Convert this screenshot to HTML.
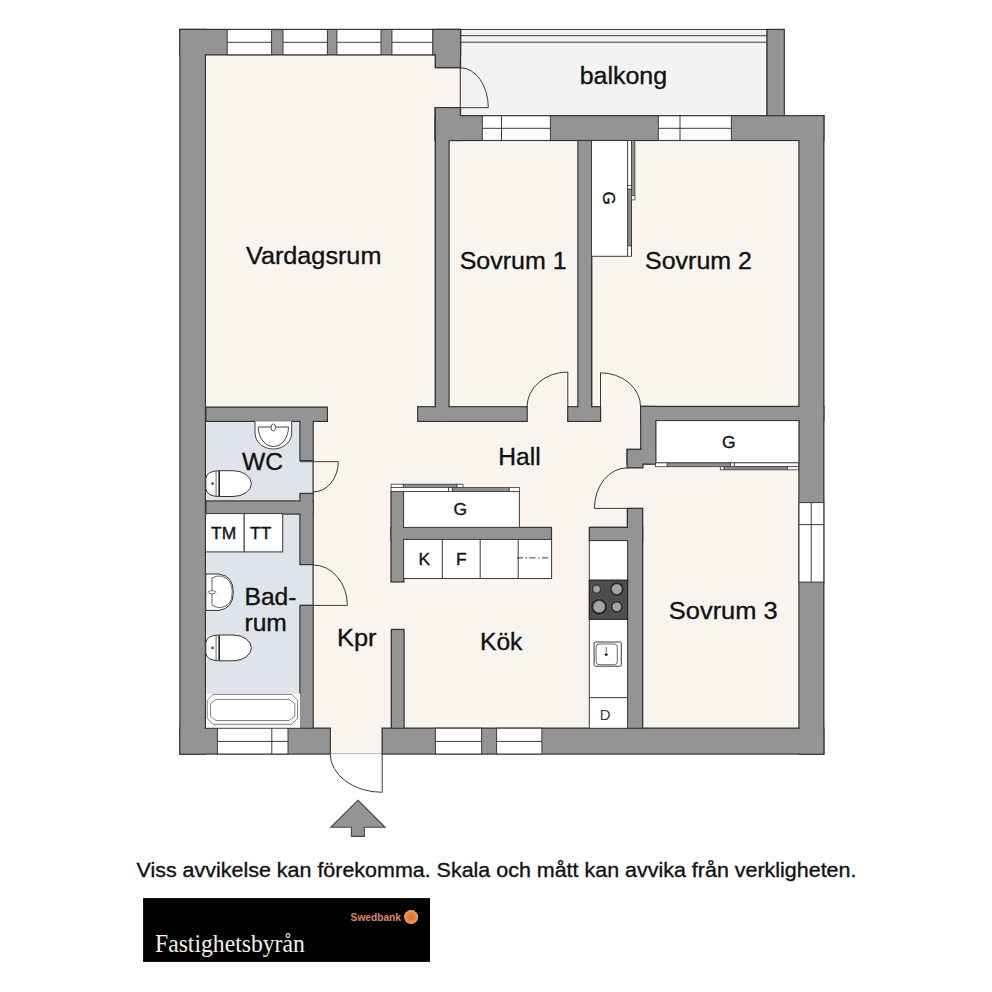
<!DOCTYPE html>
<html><head><meta charset="utf-8"><style>
html,body{margin:0;padding:0;background:#fff;width:992px;height:992px;overflow:hidden}
svg{display:block}
</style></head><body>
<svg width="992" height="992" viewBox="0 0 992 992">
<rect x="205.0" y="54.8" width="231.0" height="673.4" fill="#f9f5ee"/>
<rect x="435.0" y="115.8" width="364.0" height="612.4" fill="#f9f5ee"/>
<rect x="460.5" y="29.5" width="306.6" height="86.3" fill="#f3f3f3" stroke="#3a3a3a" stroke-width="1"/>
<rect x="206.0" y="421.3" width="107.0" height="79.7" fill="#dfe3ea"/>
<rect x="206.0" y="514.0" width="107.0" height="214.2" fill="#dfe3ea"/>
<rect x="434.0" y="66.0" width="28.0" height="43.0" fill="#f9f5ee"/>
<rect x="329.0" y="727.0" width="54.0" height="27.0" fill="#f9f5ee"/>
<rect x="180.0" y="29.5" width="252.7" height="25.3" fill="#949494" stroke="#333" stroke-width="1.4"/>
<rect x="432.7" y="29.5" width="27.8" height="25.3" fill="#949494" stroke="#333" stroke-width="1.4"/>
<rect x="435.3" y="29.5" width="25.2" height="38.2" fill="#949494" stroke="#333" stroke-width="1.4"/>
<rect x="180.0" y="29.5" width="25.3" height="724.5" fill="#949494" stroke="#333" stroke-width="1.4"/>
<rect x="180.0" y="728.2" width="150.2" height="25.8" fill="#949494" stroke="#333" stroke-width="1.4"/>
<rect x="382.2" y="728.2" width="441.6" height="25.8" fill="#949494" stroke="#333" stroke-width="1.4"/>
<rect x="799.0" y="115.8" width="24.8" height="638.2" fill="#949494" stroke="#333" stroke-width="1.4"/>
<rect x="435.3" y="107.7" width="25.2" height="32.7" fill="#949494" stroke="#333" stroke-width="1.4"/>
<rect x="435.3" y="115.8" width="388.5" height="24.6" fill="#949494" stroke="#333" stroke-width="1.4"/>
<rect x="767.1" y="29.5" width="17.1" height="86.3" fill="#949494" stroke="#333" stroke-width="1.4"/>
<rect x="435.3" y="107.7" width="13.7" height="313.6" fill="#949494" stroke="#333" stroke-width="1.4"/>
<rect x="417.8" y="406.8" width="109.3" height="14.5" fill="#949494" stroke="#333" stroke-width="1.4"/>
<rect x="578.0" y="140.4" width="13.7" height="280.9" fill="#949494" stroke="#333" stroke-width="1.4"/>
<rect x="567.8" y="406.8" width="32.7" height="14.5" fill="#949494" stroke="#333" stroke-width="1.4"/>
<rect x="640.7" y="406.5" width="183.1" height="14.1" fill="#949494" stroke="#333" stroke-width="1.4"/>
<rect x="640.8" y="406.5" width="15.2" height="57.4" fill="#949494" stroke="#333" stroke-width="1.4"/>
<rect x="627.2" y="449.5" width="28.8" height="14.4" fill="#949494" stroke="#333" stroke-width="1.4"/>
<rect x="627.2" y="449.5" width="15.7" height="18.3" fill="#949494" stroke="#333" stroke-width="1.4"/>
<rect x="627.4" y="508.4" width="15.2" height="219.8" fill="#949494" stroke="#333" stroke-width="1.4"/>
<rect x="589.4" y="527.3" width="53.2" height="13.3" fill="#949494" stroke="#333" stroke-width="1.4"/>
<rect x="206.0" y="407.2" width="121.3" height="14.1" fill="#949494" stroke="#333" stroke-width="1.4"/>
<rect x="300.0" y="410.0" width="13.1" height="50.6" fill="#949494" stroke="#333" stroke-width="1.4"/>
<rect x="300.0" y="493.5" width="13.1" height="71.0" fill="#949494" stroke="#333" stroke-width="1.4"/>
<rect x="300.0" y="605.4" width="13.1" height="122.8" fill="#949494" stroke="#333" stroke-width="1.4"/>
<rect x="206.0" y="501.0" width="107.1" height="13.0" fill="#949494" stroke="#333" stroke-width="1.4"/>
<rect x="391.1" y="491.2" width="12.7" height="90.7" fill="#949494" stroke="#333" stroke-width="1.4"/>
<rect x="391.1" y="527.5" width="160.3" height="12.1" fill="#949494" stroke="#333" stroke-width="1.4"/>
<rect x="391.4" y="629.5" width="12.6" height="98.7" fill="#949494" stroke="#333" stroke-width="1.4"/>
<rect x="180.7" y="30.2" width="251.3" height="23.9" fill="#949494"/>
<rect x="433.4" y="30.2" width="26.4" height="23.9" fill="#949494"/>
<rect x="436.0" y="30.2" width="23.8" height="36.8" fill="#949494"/>
<rect x="180.7" y="30.2" width="23.9" height="723.1" fill="#949494"/>
<rect x="180.7" y="728.9" width="148.8" height="24.4" fill="#949494"/>
<rect x="382.9" y="728.9" width="440.2" height="24.4" fill="#949494"/>
<rect x="799.7" y="116.5" width="23.4" height="636.8" fill="#949494"/>
<rect x="436.0" y="108.4" width="23.8" height="31.3" fill="#949494"/>
<rect x="436.0" y="116.5" width="387.1" height="23.2" fill="#949494"/>
<rect x="767.8" y="30.2" width="15.7" height="84.9" fill="#949494"/>
<rect x="436.0" y="108.4" width="12.3" height="312.2" fill="#949494"/>
<rect x="418.5" y="407.5" width="107.9" height="13.1" fill="#949494"/>
<rect x="578.7" y="141.1" width="12.3" height="279.5" fill="#949494"/>
<rect x="568.5" y="407.5" width="31.3" height="13.1" fill="#949494"/>
<rect x="641.4" y="407.2" width="181.7" height="12.7" fill="#949494"/>
<rect x="641.5" y="407.2" width="13.8" height="56.0" fill="#949494"/>
<rect x="627.9" y="450.2" width="27.4" height="13.0" fill="#949494"/>
<rect x="627.9" y="450.2" width="14.3" height="16.9" fill="#949494"/>
<rect x="628.1" y="509.1" width="13.8" height="218.4" fill="#949494"/>
<rect x="590.1" y="528.0" width="51.8" height="11.9" fill="#949494"/>
<rect x="206.7" y="407.9" width="119.9" height="12.7" fill="#949494"/>
<rect x="300.7" y="410.7" width="11.7" height="49.2" fill="#949494"/>
<rect x="300.7" y="494.2" width="11.7" height="69.6" fill="#949494"/>
<rect x="300.7" y="606.1" width="11.7" height="121.4" fill="#949494"/>
<rect x="206.7" y="501.7" width="105.7" height="11.6" fill="#949494"/>
<rect x="391.8" y="491.9" width="11.3" height="89.3" fill="#949494"/>
<rect x="391.8" y="528.2" width="158.9" height="10.7" fill="#949494"/>
<rect x="392.1" y="630.2" width="11.2" height="97.3" fill="#949494"/>
<rect x="227.2" y="29.5" width="44.4" height="25.3" fill="#fff" stroke="#3a3a3a" stroke-width="1"/>
<line x1="227.2" y1="42.3" x2="271.6" y2="42.3" stroke="#3a3a3a" stroke-width="1"/>
<rect x="283.0" y="29.5" width="44.4" height="25.3" fill="#fff" stroke="#3a3a3a" stroke-width="1"/>
<line x1="283.0" y1="42.3" x2="327.4" y2="42.3" stroke="#3a3a3a" stroke-width="1"/>
<rect x="336.9" y="29.5" width="44.1" height="25.3" fill="#fff" stroke="#3a3a3a" stroke-width="1"/>
<line x1="336.9" y1="42.3" x2="381.0" y2="42.3" stroke="#3a3a3a" stroke-width="1"/>
<rect x="391.9" y="29.5" width="40.8" height="25.3" fill="#fff" stroke="#3a3a3a" stroke-width="1"/>
<line x1="391.9" y1="42.3" x2="432.7" y2="42.3" stroke="#3a3a3a" stroke-width="1"/>
<rect x="482.3" y="115.8" width="68.1" height="24.6" fill="#fff" stroke="#3a3a3a" stroke-width="1"/>
<line x1="482.3" y1="128.3" x2="550.4" y2="128.3" stroke="#3a3a3a" stroke-width="1"/>
<line x1="501.5" y1="115.8" x2="501.5" y2="140.4" stroke="#3a3a3a" stroke-width="1"/>
<rect x="658.3" y="115.8" width="73.1" height="24.6" fill="#fff" stroke="#3a3a3a" stroke-width="1"/>
<line x1="658.3" y1="128.3" x2="731.4" y2="128.3" stroke="#3a3a3a" stroke-width="1"/>
<line x1="680.0" y1="115.8" x2="680.0" y2="140.4" stroke="#3a3a3a" stroke-width="1"/>
<rect x="217.4" y="728.2" width="70.6" height="25.8" fill="#fff" stroke="#3a3a3a" stroke-width="1"/>
<line x1="217.4" y1="741.4" x2="288.0" y2="741.4" stroke="#3a3a3a" stroke-width="1"/>
<line x1="271.8" y1="728.2" x2="271.8" y2="754.0" stroke="#3a3a3a" stroke-width="1"/>
<rect x="435.4" y="728.2" width="46.3" height="25.8" fill="#fff" stroke="#3a3a3a" stroke-width="1"/>
<line x1="435.4" y1="741.4" x2="481.7" y2="741.4" stroke="#3a3a3a" stroke-width="1"/>
<rect x="496.6" y="728.2" width="45.3" height="25.8" fill="#fff" stroke="#3a3a3a" stroke-width="1"/>
<line x1="496.6" y1="741.4" x2="541.9" y2="741.4" stroke="#3a3a3a" stroke-width="1"/>
<rect x="799.0" y="502.6" width="24.8" height="79.5" fill="#fff" stroke="#3a3a3a" stroke-width="1"/>
<line x1="811.2" y1="502.6" x2="811.2" y2="582.1" stroke="#3a3a3a" stroke-width="1"/>
<line x1="799.0" y1="524.6" x2="823.8" y2="524.6" stroke="#3a3a3a" stroke-width="1"/>
<line x1="460.5" y1="35.7" x2="767.1" y2="35.7" stroke="#3a3a3a" stroke-width="1"/>
<line x1="460.5" y1="42.2" x2="767.1" y2="42.2" stroke="#3a3a3a" stroke-width="1"/>
<line x1="460.3" y1="60.0" x2="460.3" y2="115.8" stroke="#3a3a3a" stroke-width="1.1"/>
<path d="M460.5,107.7 L488.3,107.7 A27.8,39.9 0 0 0 460.5,67.8" fill="none" stroke="#3a3a3a" stroke-width="1"/>
<line x1="313.1" y1="460.6" x2="313.1" y2="493.5" stroke="#3a3a3a" stroke-width="1.3"/>
<line x1="313.1" y1="564.5" x2="313.1" y2="605.4" stroke="#3a3a3a" stroke-width="1.3"/>
<path d="M313.1,461.7 L338.3,461.7 A25.2,30.3 0 0 1 313.1,492" fill="none" stroke="#3a3a3a" stroke-width="1"/>
<line x1="300.0" y1="461.7" x2="313.1" y2="461.7" stroke="#3a3a3a" stroke-width="1"/>
<path d="M313.1,605.4 L347.4,605.4 A34.3,40.4 0 0 0 313.1,565" fill="none" stroke="#3a3a3a" stroke-width="1"/>
<line x1="300.0" y1="605.4" x2="313.1" y2="605.4" stroke="#3a3a3a" stroke-width="1"/>
<path d="M382.2,753.6 L382.2,792.3 A52,38.7 0 0 1 330.2,753.6" fill="none" stroke="#3a3a3a" stroke-width="1"/>
<line x1="330.2" y1="753.6" x2="382.2" y2="753.6" stroke="#888" stroke-width="0.6"/>
<path d="M567.8,406.8 L567.8,372 A40.7,34.8 0 0 0 527.1,406.8" fill="none" stroke="#3a3a3a" stroke-width="1"/>
<path d="M600.5,406.8 L600.5,372.8 A40.1,34 0 0 1 640.6,406.8" fill="none" stroke="#3a3a3a" stroke-width="1"/>
<path d="M627.2,508.4 L594.4,508.4 A32.8,40.6 0 0 1 627.2,467.8" fill="none" stroke="#3a3a3a" stroke-width="1"/>
<rect x="591.5" y="140.5" width="36.2" height="115.8" fill="#fff" stroke="#3a3a3a" stroke-width="1"/>
<rect x="656.0" y="420.6" width="142.9" height="42.3" fill="#fff" stroke="#3a3a3a" stroke-width="1"/>
<rect x="403.6" y="491.4" width="115.8" height="36.0" fill="#fff" stroke="#3a3a3a" stroke-width="1"/>
<rect x="627.7" y="140.5" width="3.7" height="44.9" fill="#fff" stroke="#3a3a3a" stroke-width="0.8"/>
<rect x="627.7" y="185.4" width="3.7" height="3.8" fill="#fff" stroke="#3a3a3a" stroke-width="0.8"/>
<rect x="627.7" y="189.2" width="3.7" height="56.6" fill="#8f8f8f" stroke="#3a3a3a" stroke-width="0.8"/>
<rect x="627.7" y="245.8" width="3.7" height="10.5" fill="#fff" stroke="#3a3a3a" stroke-width="0.8"/>
<rect x="631.4" y="140.5" width="3.5" height="54.9" fill="#8f8f8f" stroke="#3a3a3a" stroke-width="0.8"/>
<rect x="631.4" y="195.4" width="3.5" height="4.5" fill="#fff" stroke="#3a3a3a" stroke-width="0.8"/>
<line x1="631.4" y1="199.9" x2="631.4" y2="256.3" stroke="#3a3a3a" stroke-width="0.9"/>
<rect x="391.1" y="484.2" width="12.2" height="3.2" fill="#fff" stroke="#3a3a3a" stroke-width="0.8"/>
<rect x="403.3" y="484.2" width="53.7" height="3.2" fill="#8f8f8f" stroke="#3a3a3a" stroke-width="0.8"/>
<rect x="457.0" y="484.2" width="6.0" height="3.2" fill="#fff" stroke="#3a3a3a" stroke-width="0.8"/>
<rect x="391.1" y="487.4" width="57.3" height="4.0" fill="#fff" stroke="#3a3a3a" stroke-width="0.8"/>
<rect x="448.4" y="487.4" width="4.3" height="4.0" fill="#fff" stroke="#3a3a3a" stroke-width="0.8"/>
<rect x="452.7" y="487.4" width="56.5" height="4.0" fill="#8f8f8f" stroke="#3a3a3a" stroke-width="0.8"/>
<rect x="509.2" y="487.4" width="10.2" height="4.0" fill="#fff" stroke="#3a3a3a" stroke-width="0.8"/>
<rect x="655.5" y="462.9" width="11.7" height="3.8" fill="#fff" stroke="#3a3a3a" stroke-width="0.8"/>
<rect x="667.2" y="462.9" width="63.3" height="3.8" fill="#8f8f8f" stroke="#3a3a3a" stroke-width="0.8"/>
<rect x="730.5" y="462.9" width="3.9" height="3.8" fill="#fff" stroke="#3a3a3a" stroke-width="0.8"/>
<rect x="734.4" y="462.9" width="64.0" height="3.8" fill="#fff" stroke="#3a3a3a" stroke-width="0.8"/>
<rect x="720.3" y="466.7" width="3.9" height="3.1" fill="#fff" stroke="#3a3a3a" stroke-width="0.8"/>
<rect x="724.2" y="466.7" width="63.3" height="3.1" fill="#8f8f8f" stroke="#3a3a3a" stroke-width="0.8"/>
<rect x="787.5" y="466.7" width="10.9" height="3.1" fill="#fff" stroke="#3a3a3a" stroke-width="0.8"/>
<rect x="403.6" y="539.4" width="148.0" height="39.1" fill="#fff" stroke="#3a3a3a" stroke-width="1"/>
<line x1="442.3" y1="539.4" x2="442.3" y2="578.5" stroke="#3a3a3a" stroke-width="1"/>
<line x1="480.2" y1="539.4" x2="480.2" y2="578.5" stroke="#3a3a3a" stroke-width="1"/>
<line x1="518.2" y1="539.4" x2="518.2" y2="578.5" stroke="#3a3a3a" stroke-width="1"/>
<line x1="517" y1="557.9" x2="549.2" y2="557.9" stroke="#3a3a3a" stroke-width="1" stroke-dasharray="6,2.5,1.5,2.5"/>
<rect x="589.3" y="540.6" width="38.3" height="187.7" fill="#fff" stroke="#3a3a3a" stroke-width="1"/>
<rect x="589.3" y="580.0" width="38.3" height="39.4" fill="#4d4d4d" stroke="#222" stroke-width="1"/>
<circle cx="596.6" cy="589.1" r="5.2" fill="#262626" stroke="#666" stroke-width="0.7"/>
<circle cx="596.6" cy="589.1" r="3.64" fill="#a5a5a5" stroke="#555" stroke-width="0.6"/>
<circle cx="616.8" cy="589.1" r="7.4" fill="#262626" stroke="#666" stroke-width="0.7"/>
<circle cx="616.8" cy="589.1" r="5.18" fill="#a5a5a5" stroke="#555" stroke-width="0.6"/>
<circle cx="599.1" cy="606.8" r="8.5" fill="#262626" stroke="#666" stroke-width="0.7"/>
<circle cx="599.1" cy="606.8" r="5.95" fill="#a5a5a5" stroke="#555" stroke-width="0.6"/>
<circle cx="616.8" cy="606.8" r="6.5" fill="#262626" stroke="#666" stroke-width="0.7"/>
<circle cx="616.8" cy="606.8" r="4.55" fill="#a5a5a5" stroke="#555" stroke-width="0.6"/>
<line x1="589.3" y1="697.6" x2="627.6" y2="697.6" stroke="#3a3a3a" stroke-width="1"/>
<rect x="594.1" y="642.0" width="27.2" height="24.2" fill="#fff" stroke="#3a3a3a" stroke-width="1" rx="1.5"/>
<rect x="596.1" y="644.0" width="21.2" height="20.7" fill="#fff" stroke="#555" stroke-width="0.9" rx="3"/>
<line x1="606.2" y1="647.0" x2="606.2" y2="652.0" stroke="#666" stroke-width="1"/>
<circle cx="606.2" cy="654.6" r="1.4" fill="#111"/>
<rect x="205.5" y="513.6" width="38.7" height="38.3" fill="#fff" stroke="#3a3a3a" stroke-width="1"/>
<rect x="244.2" y="513.6" width="38.5" height="38.3" fill="#fff" stroke="#3a3a3a" stroke-width="1"/>
<path d="M255,421.3 L255,433 A18.35,16 0 0 0 291.7,433 L291.7,421.3" fill="#fff" stroke="#444" stroke-width="1"/>
<path d="M258.3,427 L288.5,427 A15.1,19.5 0 0 1 258.3,427 Z" fill="#fff" stroke="#444" stroke-width="1"/>
<ellipse cx="273.3" cy="427.5" rx="2.2" ry="3.6" fill="#fff" stroke="#444" stroke-width="0.9"/>
<path d="M219.7,470.7 L233,470.7 A18.4,12.9 0 0 1 233,496.5 L219.7,496.5 Q206.5,496.5 205.8,488.6 L205.8,478.6 Q206.5,470.7 219.7,470.7 Z" fill="#fff" stroke="#333" stroke-width="1"/>
<line x1="216.1" y1="471.2" x2="216.1" y2="496.0" stroke="#444" stroke-width="0.8"/>
<line x1="219.2" y1="471.0" x2="219.2" y2="496.2" stroke="#222" stroke-width="1.6"/>
<circle cx="212.6" cy="483.6" r="1.3" fill="#444"/>
<path d="M219.7,635.0 L233,635.0 A18.4,12.9 0 0 1 233,660.8 L219.7,660.8 Q206.5,660.8 205.8,652.9 L205.8,642.9 Q206.5,635.0 219.7,635.0 Z" fill="#fff" stroke="#333" stroke-width="1"/>
<line x1="216.1" y1="635.5" x2="216.1" y2="660.3" stroke="#444" stroke-width="0.8"/>
<line x1="219.2" y1="635.3" x2="219.2" y2="660.5" stroke="#222" stroke-width="1.6"/>
<circle cx="212.6" cy="647.9" r="1.3" fill="#444"/>
<path d="M205.8,574 L219,574 Q233.3,576 233.3,592.2 Q233.3,608.5 219,610.4 L205.8,610.4 Z" fill="#fff" stroke="#333" stroke-width="1"/>
<path d="M212,578 Q216,575.5 221,576 Q232.3,579 232.3,592 Q232.3,606 221,607.5 Q216,608 212,605 Z" fill="#fff" stroke="#555" stroke-width="0.9"/>
<ellipse cx="212" cy="592.2" rx="4" ry="1.6" fill="#fff" stroke="#555" stroke-width="0.8"/>
<rect x="206.0" y="693.5" width="94.3" height="34.2" fill="#f7f8fa"/>
<path d="M213,694.4 L291.6,694.4 L297.6,700.4 L297.6,718.3 L291.6,724.3 L213,724.3 L207.2,718.3 L207.2,700.4 Z" fill="#fff" stroke="#777" stroke-width="0.9"/>
<path d="M216,699.4 L289,699.4 L294.8,703.5 L294.8,716.4 L289,720.5 L216,720.5 L210.5,716.4 L210.5,703.5 Z" fill="#fff" stroke="#777" stroke-width="0.9"/>
<path d="M358,800.2 L385.1,827.3 L364.3,827.3 L364.3,836.4 L351.4,836.4 L351.4,827.3 L330.7,827.3 Z" fill="#949494" stroke="#444" stroke-width="1.1"/>
<text x="0" y="0" transform="translate(246.0,264.2) scale(1.025,1)" font-size="24.6" fill="#111" text-anchor="start" stroke="#111" stroke-width="0.35" style="font-family:'Liberation Sans'">Vardagsrum</text>
<text x="0" y="0" transform="translate(579.7,84.2) scale(1.015,1)" font-size="24.6" fill="#111" text-anchor="start" stroke="#111" stroke-width="0.35" style="font-family:'Liberation Sans'">balkong</text>
<text x="0" y="0" transform="translate(459.7,268.8) scale(1.025,1)" font-size="24.4" fill="#111" text-anchor="start" stroke="#111" stroke-width="0.35" style="font-family:'Liberation Sans'">Sovrum 1</text>
<text x="0" y="0" transform="translate(645.0,268.8) scale(1.025,1)" font-size="24.4" fill="#111" text-anchor="start" stroke="#111" stroke-width="0.35" style="font-family:'Liberation Sans'">Sovrum 2</text>
<text x="0" y="0" transform="translate(498.2,464.5) scale(1.01,1)" font-size="24.4" fill="#111" text-anchor="start" stroke="#111" stroke-width="0.35" style="font-family:'Liberation Sans'">Hall</text>
<text x="0" y="0" transform="translate(242.0,469.7) scale(1.025,1)" font-size="24" fill="#111" text-anchor="start" stroke="#111" stroke-width="0.35" style="font-family:'Liberation Sans'">WC</text>
<text x="0" y="0" transform="translate(244.5,605.4) scale(1.025,1)" font-size="24" fill="#111" text-anchor="start" stroke="#111" stroke-width="0.35" style="font-family:'Liberation Sans'">Bad-</text>
<text x="0" y="0" transform="translate(244.5,630.6) scale(1.025,1)" font-size="24" fill="#111" text-anchor="start" stroke="#111" stroke-width="0.35" style="font-family:'Liberation Sans'">rum</text>
<text x="0" y="0" transform="translate(337.0,646.2) scale(1.025,1)" font-size="24.8" fill="#111" text-anchor="start" stroke="#111" stroke-width="0.35" style="font-family:'Liberation Sans'">Kpr</text>
<text x="0" y="0" transform="translate(480.0,650.4) scale(1.025,1)" font-size="24" fill="#111" text-anchor="start" stroke="#111" stroke-width="0.35" style="font-family:'Liberation Sans'">Kök</text>
<text x="0" y="0" transform="translate(668.8,619.1) scale(1.035,1)" font-size="24.6" fill="#111" text-anchor="start" stroke="#111" stroke-width="0.35" style="font-family:'Liberation Sans'">Sovrum 3</text>
<text x="0" y="0" transform="translate(211.0,539.3) scale(1.025,1)" font-size="17" fill="#111" text-anchor="start" stroke="#111" stroke-width="0.35" style="font-family:'Liberation Sans'">TM</text>
<text x="0" y="0" transform="translate(250.0,539.3) scale(1.025,1)" font-size="17" fill="#111" text-anchor="start" stroke="#111" stroke-width="0.35" style="font-family:'Liberation Sans'">TT</text>
<text x="0" y="0" transform="translate(453.5,515.0) scale(1.025,1)" font-size="17" fill="#111" text-anchor="start" stroke="#111" stroke-width="0.35" style="font-family:'Liberation Sans'">G</text>
<text x="0" y="0" transform="translate(418.5,565.4) scale(1.025,1)" font-size="17" fill="#111" text-anchor="start" stroke="#111" stroke-width="0.35" style="font-family:'Liberation Sans'">K</text>
<text x="0" y="0" transform="translate(456.0,565.4) scale(1.025,1)" font-size="17" fill="#111" text-anchor="start" stroke="#111" stroke-width="0.35" style="font-family:'Liberation Sans'">F</text>
<text x="0" y="0" transform="translate(722.0,448.0) scale(1.025,1)" font-size="17" fill="#111" text-anchor="start" stroke="#111" stroke-width="0.35" style="font-family:'Liberation Sans'">G</text>
<text x="0" y="0" transform="translate(599.7,720.0) scale(1.025,1)" font-size="14.5" fill="#333" text-anchor="start" stroke="#333" stroke-width="0" style="font-family:'Liberation Sans'">D</text>
<text x="0" y="0" font-size="17" fill="#111" stroke="#111" stroke-width="0.35" font-family="Liberation Sans" transform="translate(603.2,191.6) rotate(90)">G</text>
<text x="0" y="0" transform="translate(136.5,877.2) scale(1.037,1)" font-size="20.7" fill="#111" text-anchor="start" stroke="#111" stroke-width="0.35" style="font-family:'Liberation Sans'">Viss avvikelse kan förekomma. Skala och mått kan avvika från verkligheten.</text>
<rect x="143.1" y="898.1" width="286.9" height="63.8" fill="#000"/>
<text x="0" y="0" transform="translate(155.0,951.8) scale(0.91,1)" font-size="26" fill="#f4f0e6" text-anchor="start" stroke="#f4f0e6" stroke-width="0.0" style="font-family:'Liberation Serif'">Fastighetsbyrån</text>
<text x="0" y="0" transform="translate(350.6,920.9) scale(0.91,1)" font-size="11.2" fill="#d98a68" text-anchor="start" stroke="#d98a68" stroke-width="0" style="font-family:'Liberation Sans'" font-weight="bold">Swedbank</text>
<defs><radialGradient id="sb" cx="50%" cy="50%" r="50%"><stop offset="0" stop-color="#e0741f"/><stop offset="0.7" stop-color="#e8883e"/><stop offset="1" stop-color="#f2b38a"/></radialGradient></defs><circle cx="411.1" cy="917.1" r="7" fill="url(#sb)"/>
</svg>
</body></html>
